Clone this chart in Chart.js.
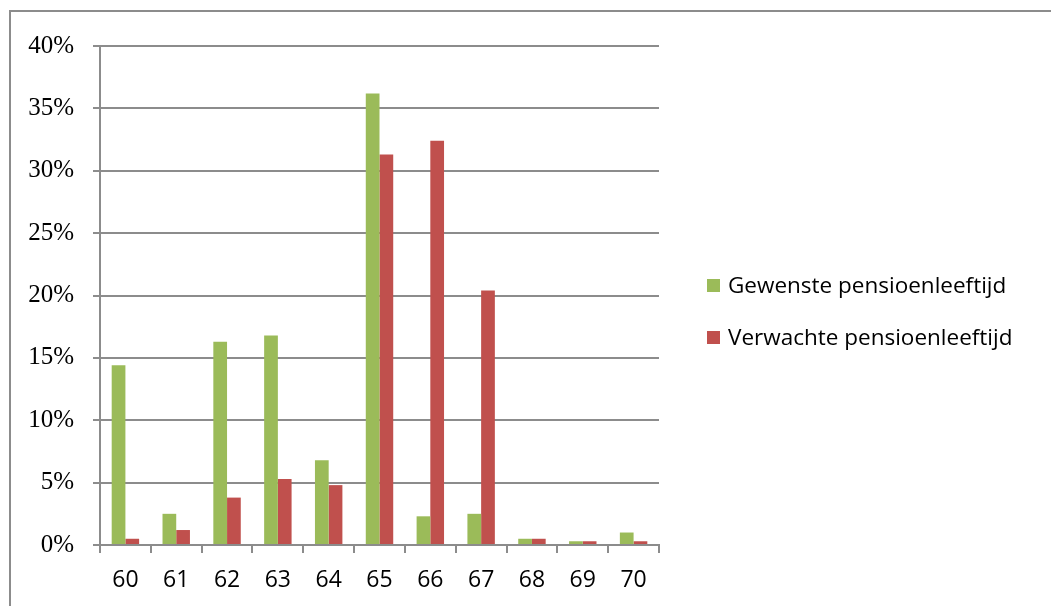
<!DOCTYPE html>
<html>
<head>
<meta charset="utf-8">
<script src="https://cdn.jsdelivr.net/npm/chart.js@4.4.1/dist/chart.umd.min.js"></script>
<style>
  html, body { margin: 0; padding: 0; background: #fff; }
  #wrap { position: relative; width: 1051px; height: 606px; overflow: hidden; }
  #frame { position: absolute; left: 9px; top: 10px; width: 1100px; height: 700px;
           border-left: 2px solid #8c8c8c; border-top: 2px solid #8c8c8c; }
  canvas { position: absolute; left: 0; top: 0; }
  #legend { position: absolute; left: 707px; top: 269px; font-family: "Open Sans", sans-serif;
            font-size: 22.5px; color: #000; }
  .item { position: relative; height: 26px; margin-bottom: 26px; white-space: nowrap; }
  .box { position: absolute; left: 0; top: 10px; width: 13px; height: 13px; }
  .txt { position: absolute; left: 21px; top: 0; line-height: 32px; }
</style>
</head>
<body>
<div id="wrap">
  <div id="frame"></div>
  <canvas id="c" width="1051" height="606"></canvas>
  <div id="legend"></div>
</div>
<script>
// Pension ages on the x axis
const ages = ['60', '61', '62', '63', '64', '65', '66', '67', '68', '69', '70'];
// Share of respondents per age (%)
const gewenst = [14.4, 2.5, 16.3, 16.8, 6.8, 36.2, 2.3, 2.5, 0.5, 0.3, 1.0];
const verwacht = [0.5, 1.2, 3.8, 5.3, 4.8, 31.3, 32.4, 20.4, 0.5, 0.3, 0.3];
const seriesNames = ['Gewenste pensioenleeftijd', 'Verwachte pensioenleeftijd'];
const seriesColors = ['#9BBB59', '#C0504D'];

const axisGray = '#8c8c8c';

new Chart(document.getElementById('c'), {
  type: 'bar',
  data: {
    labels: ages,
    datasets: [
      { label: seriesNames[0], data: gewenst, backgroundColor: seriesColors[0] },
      { label: seriesNames[1], data: verwacht, backgroundColor: seriesColors[1] }
    ]
  },
  options: {
    responsive: false,
    animation: false,
    devicePixelRatio: 1,
    categoryPercentage: 0.54,
    barPercentage: 1.0,
    layout: { padding: { left: 0, top: 46, right: 392, bottom: 0 } },
    plugins: { legend: { display: false }, tooltip: { enabled: false } },
    scales: {
      x: {
        grid: { display: true, drawOnChartArea: false, drawTicks: true, tickLength: 8,
                offset: true, color: axisGray, lineWidth: 2 },
        border: { display: true, color: axisGray, width: 2 },
        ticks: { color: '#000', padding: 14, font: { family: 'Open Sans', size: 23 } },
        afterFit(scale) { scale.height = 61; }
      },
      y: {
        min: 0, max: 40,
        ticks: { stepSize: 5, color: '#000', padding: 19,
                 font: { family: 'Liberation Serif', size: 25 },
                 callback: v => v + '%' },
        grid: { color: axisGray, lineWidth: 2, tickLength: 7, drawTicks: true },
        border: { display: true, color: axisGray, width: 2 },
        afterFit(scale) { scale.width = 100; }
      }
    }
  }
});

// Legend built from the series names and colours
const legend = document.getElementById('legend');
seriesNames.forEach((name, i) => {
  const item = document.createElement('div');
  item.className = 'item';
  const box = document.createElement('div');
  box.className = 'box';
  box.style.background = seriesColors[i];
  const txt = document.createElement('div');
  txt.className = 'txt';
  txt.textContent = name;
  item.appendChild(box);
  item.appendChild(txt);
  legend.appendChild(item);
});
</script>
</body>
</html>
